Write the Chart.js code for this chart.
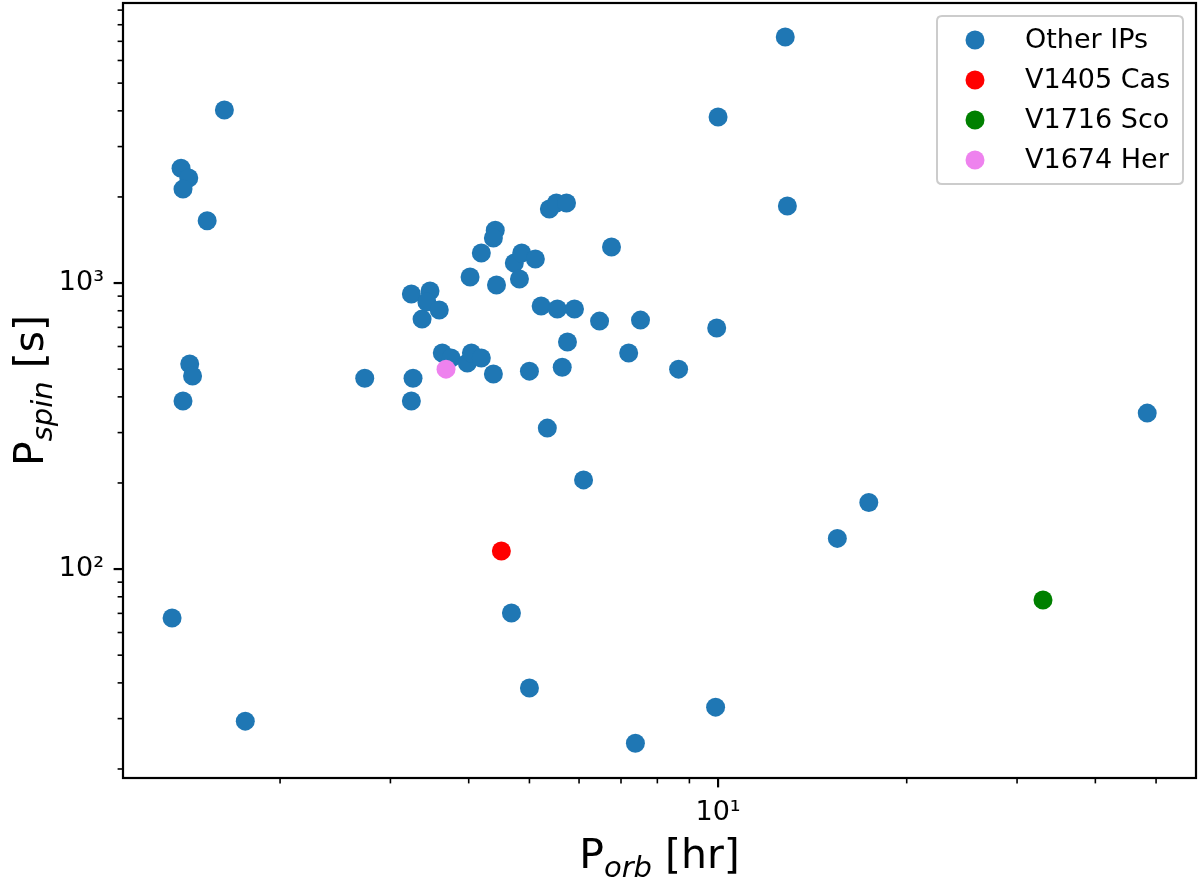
<!DOCTYPE html>
<html><head><meta charset="utf-8">
<script src="https://cdn.jsdelivr.net/npm/chart.js@4"></script>
<style>html,body{margin:0;padding:0;background:#fff}#wrap{width:1200px;height:880px}</style>
</head><body><div id="wrap"><canvas id="c" width="1200" height="880"></canvas></div>
<script>
// ---- data ----
const otherPorb = [1.63,1.39,1.43,1.40,1.53,1.435,1.45,1.40,1.345,1.76,2.73,3.26,3.24,3.24,3.47,3.43,3.59,3.37,3.63,3.75,3.98,4.04,4.19,4.38,4.02,4.19,4.41,4.38,4.43,4.73,4.86,5.11,4.82,5.38,5.52,5.73,5.22,5.54,5.90,5.00,5.64,5.75,5.34,6.47,6.76,7.20,7.52,8.65,9.95,10.0,6.10,4.68,5.00,7.38,9.91,12.8,12.9,15.5,17.4,48.4];
const otherPspin = [4030,2520,2330,2130,1650,521,473,387,67.4,29.4,465,465,387,915,938,858,805,748,569,547,525,569,547,481,1050,1273,1530,1437,984,1175,1273,1213,1033,1815,1905,1905,831,811,811,492,508,622,311,736,1336,569,742,500,696,3805,205,70.2,38.4,24.6,32.9,7250,1860,128,171,351];
const casPorb = [4.51], casPspin = [115.6];
const scoPorb = [33.0], scoPspin = [77.9];
const herPorb = [3.68], herPspin = [500];
const seriesLabels = ['Other IPs','V1405 Cas','V1716 Sco','V1674 Her'];
const seriesColors = ['#1f77b4','#ff0000','#008000','#ee82ee'];
const xMajorTicks = [10], xTickLabels = ['10\u00b9'];
const yMajorTicks = [100,1000], yTickLabels = ['10\u00b2','10\u00b3'];
const xMinorTicks = [2,3,4,5,6,7,8,9,20,30,40,50];
const yMinorTicks = [20,30,40,50,60,70,80,90,200,300,400,500,600,700,800,900,2000,3000,4000,5000,6000,7000,8000,9000];
const xRange = [1.123,57.9], yRange = [18.6,9530];
const xTitle = ['P','orb',' [hr]'], yTitle = ['P','spin',' [s]'];

const FONT = "'DejaVu Sans'";
const pts = (xs,ys)=>xs.map((v,i)=>({x:v,y:ys[i]}));
const pairs = [[otherPorb,otherPspin],[casPorb,casPspin],[scoPorb,scoPspin],[herPorb,herPspin]];
const datasets = pairs.map((p,i)=>({
  label: seriesLabels[i], data: pts(p[0],p[1]),
  backgroundColor: seriesColors[i], borderWidth:0,
  pointRadius:9.5, pointHoverRadius:9.5, order: i===0?4:3-i
}));

function drawMath(ctx, parts, F){
  const fMain = F+'px '+FONT, fSub = 'italic '+Math.round(F*0.7)+'px '+FONT;
  ctx.font=fMain; const w0=ctx.measureText(parts[0]).width, w2=ctx.measureText(parts[2]).width;
  ctx.font=fSub; const w1=ctx.measureText(parts[1]).width;
  let x=-(w0+w1+w2)/2;
  ctx.textAlign='left'; ctx.textBaseline='alphabetic';
  ctx.font=fMain; ctx.fillText(parts[0],x,0); x+=w0;
  ctx.font=fSub; ctx.fillText(parts[1],x,F*0.22); x+=w1;
  ctx.font=fMain; ctx.fillText(parts[2],x,0);
}

const deco = {
  id:'deco',
  afterDatasetsDraw(chart){
    const {ctx, chartArea:a, scales:{x,y}} = chart;
    ctx.save();
    ctx.strokeStyle='#000'; ctx.fillStyle='#000';
    const tick=(isX,v,len,w)=>{
      ctx.lineWidth=w; ctx.beginPath();
      if(isX){const p=x.getPixelForValue(v); ctx.moveTo(p,a.bottom); ctx.lineTo(p,a.bottom+len);}
      else {const p=y.getPixelForValue(v); ctx.moveTo(a.left,p); ctx.lineTo(a.left-len,p);}
      ctx.stroke();
    };
    xMinorTicks.forEach(v=>tick(true,v,5.4,1.6));
    yMinorTicks.forEach(v=>tick(false,v,5.4,1.6));
    xMajorTicks.forEach(v=>tick(true,v,9.4,2.2));
    yMajorTicks.forEach(v=>tick(false,v,9.4,2.2));
    ctx.lineWidth=2.2;
    ctx.strokeRect(a.left,a.top,a.right-a.left,a.bottom-a.top);

    // legend
    const lx=937, ly=16, lw=246, lh=168, r=5;
    ctx.beginPath();
    ctx.moveTo(lx+r,ly); ctx.lineTo(lx+lw-r,ly); ctx.quadraticCurveTo(lx+lw,ly,lx+lw,ly+r);
    ctx.lineTo(lx+lw,ly+lh-r); ctx.quadraticCurveTo(lx+lw,ly+lh,lx+lw-r,ly+lh);
    ctx.lineTo(lx+r,ly+lh); ctx.quadraticCurveTo(lx,ly+lh,lx,ly+lh-r);
    ctx.lineTo(lx,ly+r); ctx.quadraticCurveTo(lx,ly,lx+r,ly); ctx.closePath();
    ctx.fillStyle='rgba(255,255,255,0.8)'; ctx.fill();
    ctx.strokeStyle='#cccccc'; ctx.lineWidth=2; ctx.stroke();
    chart.data.datasets.forEach((ds,i)=>{
      const cy = ly+24+i*40;
      ctx.fillStyle=ds.backgroundColor;
      ctx.beginPath(); ctx.arc(975,cy,9.5,0,Math.PI*2); ctx.fill();
      ctx.fillStyle='#000'; ctx.font='27px '+FONT; ctx.textAlign='left'; ctx.textBaseline='middle';
      ctx.fillText(ds.label,1025,cy+1);
    });

    // axis titles
    ctx.fillStyle='#000';
    ctx.save(); ctx.translate((a.left+a.right)/2, 868); drawMath(ctx,xTitle,41); ctx.restore();
    ctx.save(); ctx.translate(43,(a.top+a.bottom)/2); ctx.rotate(-Math.PI/2); drawMath(ctx,yTitle,41); ctx.restore();
    ctx.restore();
  }
};

const tickFont = {family:FONT,size:27};
new Chart(document.getElementById('c'),{
  type:'scatter',
  data:{datasets},
  options:{
    responsive:false, animation:false, devicePixelRatio:1,
    layout:{autoPadding:false,padding:{top:3,right:4,left:0,bottom:0}},
    plugins:{legend:{display:false},tooltip:{enabled:false}},
    events:[],
    scales:{
      x:{type:'logarithmic',position:'bottom',min:xRange[0],max:xRange[1],
        grid:{display:false,drawTicks:false,tickLength:0},border:{display:false},
        ticks:{font:tickFont,color:'#000',padding:19,maxRotation:0,autoSkip:false,
          callback:(v)=>{const i=xMajorTicks.indexOf(v);return i>=0?xTickLabels[i]:'';}},
        afterBuildTicks:s=>{s.ticks=xMajorTicks.map(v=>({value:v}));},
        afterFit:s=>{s.height=102;s.paddingLeft=0;s.paddingRight=0;s.paddingTop=0;s.paddingBottom=0;}},
      y:{type:'logarithmic',position:'left',min:yRange[0],max:yRange[1],
        grid:{display:false,drawTicks:false,tickLength:0},border:{display:false},
        ticks:{font:tickFont,color:'#000',padding:19,autoSkip:false,
          callback:(v)=>{const i=yMajorTicks.indexOf(v);return i>=0?yTickLabels[i]:'';}},
        afterBuildTicks:s=>{s.ticks=yMajorTicks.map(v=>({value:v}));},
        afterFit:s=>{s.width=123;s.paddingLeft=0;s.paddingRight=0;s.paddingTop=0;s.paddingBottom=0;}}
    }
  },
  plugins:[deco]
});
</script></body></html>
